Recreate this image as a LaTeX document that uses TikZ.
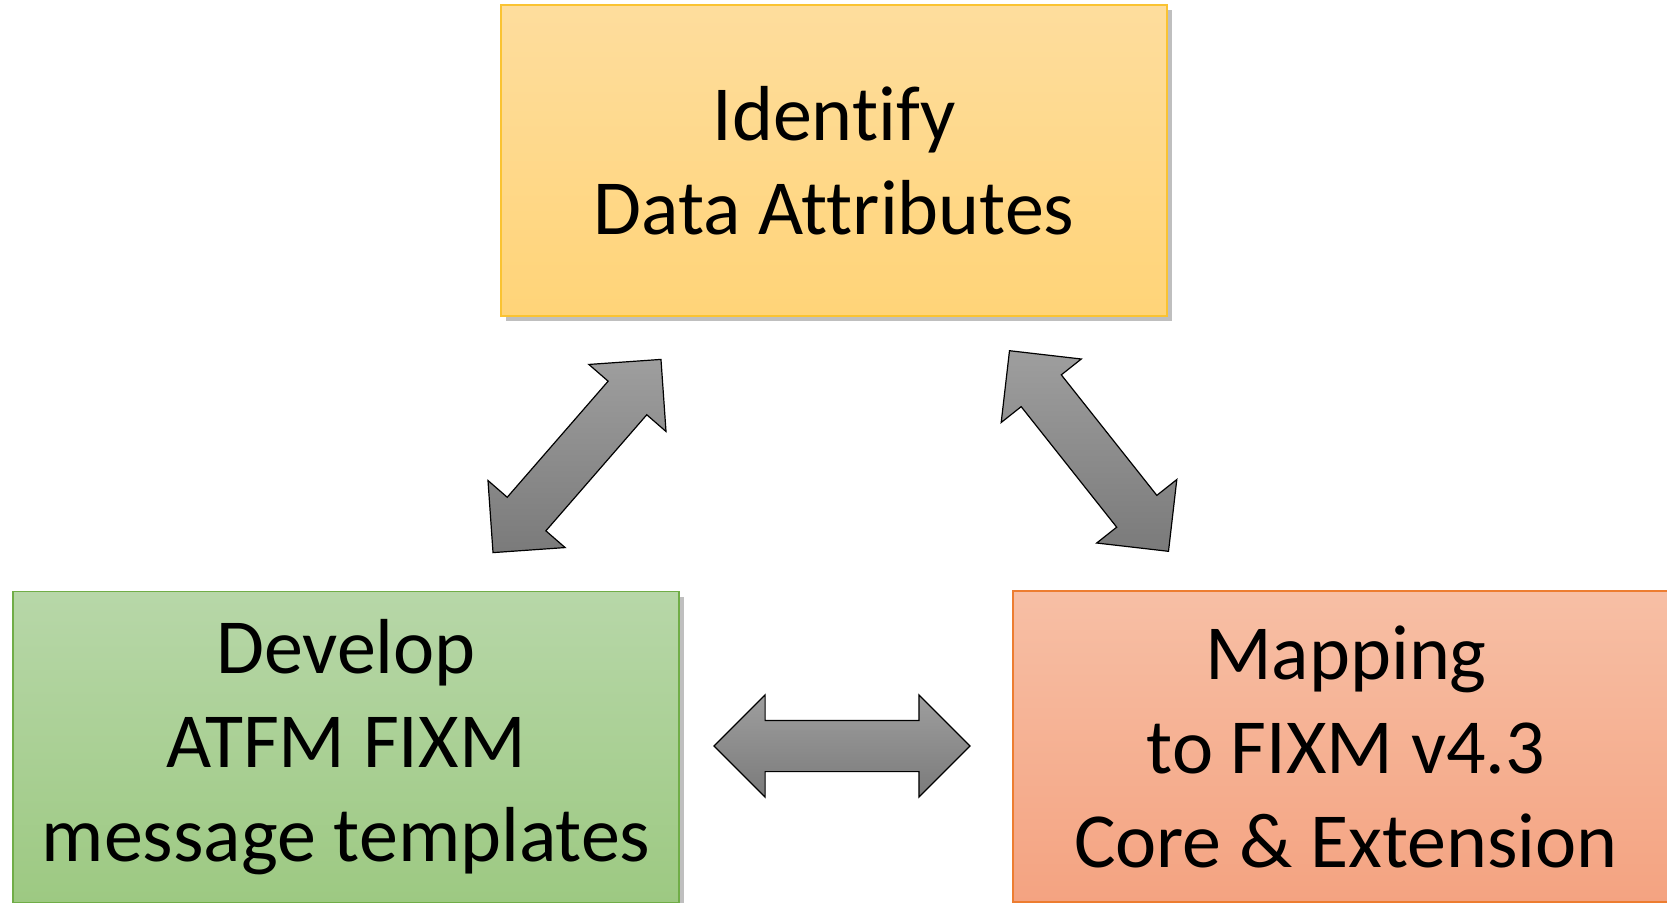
\documentclass[tikz,border=0pt]{standalone}
\usepackage{fontspec}
\setmainfont[Ligatures={NoCommon}]{Carlito}
\usetikzlibrary{shapes.arrows,shadows}

\definecolor{identLine}{RGB}{250,195,50}
\definecolor{identTop}{RGB}{254,221,157}
\definecolor{identBot}{RGB}{255,212,120}
\definecolor{devLine}{RGB}{112,173,71}
\definecolor{devTop}{RGB}{183,215,168}
\definecolor{devBot}{RGB}{157,201,130}
\definecolor{mapLine}{RGB}{237,125,49}
\definecolor{mapTop}{RGB}{247,191,165}
\definecolor{mapBot}{RGB}{244,163,129}

\begin{document}
\begin{tikzpicture}[x=0.5pt, y=-0.5pt,
        stepbox/.style={draw, line width=0.8pt, minimum width=333pt, minimum height=155.5pt,
            inner sep=0pt, align=center, font=\fontsize{39}{47}\selectfont,
            drop shadow={shadow xshift=2.5pt, shadow yshift=-2.5pt, fill=black, opacity=0.25}},
        dblarrow/.style={double arrow, draw, line width=0.6pt, inner xsep=0pt, inner ysep=12.5pt,
            minimum height=128pt, minimum width=50.5pt, double arrow head extend=12.75pt,
            top color=black!38, bottom color=black!52}]
    \useasboundingbox (0,0) rectangle (1667,902);
    % the three steps
    \node[stepbox, draw=identLine, top color=identTop, bottom color=identBot] (ident) at (834,160.5) {Identify\\Data Attributes};
    \node[stepbox, draw=devLine, top color=devTop, bottom color=devBot] (develop) at (346,747) {Develop\\ATFM FIXM\\message templates};
    \node[stepbox, draw=mapLine, top color=mapTop, bottom color=mapBot] (mapping) at (1346,746.5) {Mapping\\to FIXM v4.3\\Core \& Extension};
    % arrows between them
    \node[dblarrow, rotate=49] (identdev) at (577,456) {};
    \node[dblarrow, rotate=-51.6] (identmap) at (1089,451) {};
    \node[dblarrow] (devmap) at (842,746) {};
\end{tikzpicture}
\end{document}
